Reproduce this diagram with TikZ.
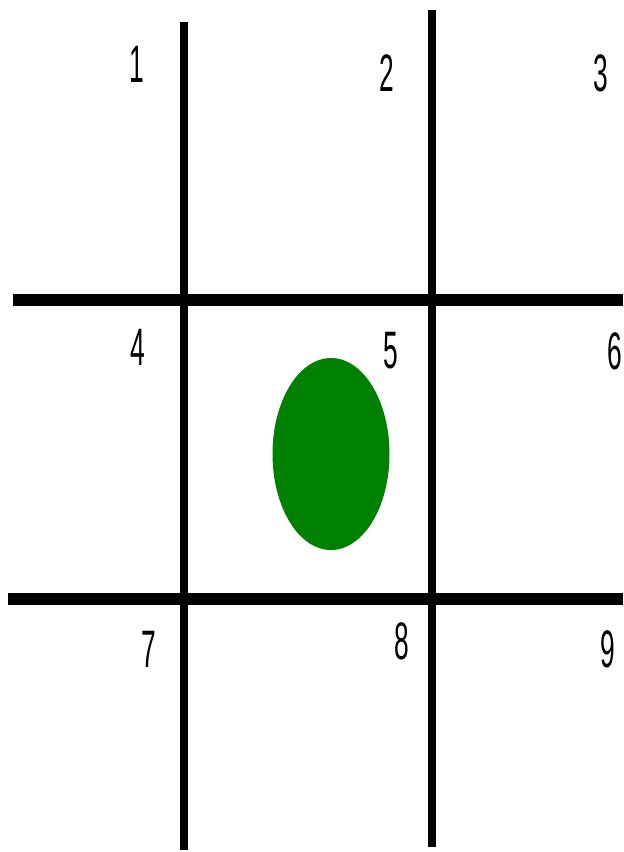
\documentclass[tikz,border=0pt]{standalone}
\usepackage{fontspec}
\setmainfont{Liberation Sans}
\usepackage{tikz}
\usetikzlibrary{shapes.geometric}
\definecolor{blobgreen}{RGB}{0,128,0}
\tikzset{
  vline/.style={line width=6.6pt,black},
  hline/.style={line width=10pt,black},
  cellnum/.style={inner sep=0pt,xscale=0.5,font=\fontsize{45}{45}\selectfont},
  blob/.style={fill=blobgreen},
}
\begin{document}
\begin{tikzpicture}[x=0.03cm,y=-0.03cm]
  \useasboundingbox (0,0) rectangle (623,852);

  % grid
  \draw[vline] (184,22) -- (184,850);
  \draw[vline] (432,10) -- (432,847);
  \draw[hline] (13,300) -- (623,300);
  \draw[hline] (8,599)  -- (623,599);

  % cell numbers
  \node[cellnum] (n1) at (136.5,64.5) {1};
  \node[cellnum] (n2) at (386.5,73)   {2};
  \node[cellnum] (n3) at (601,73.5)   {3};
  \node[cellnum] (n4) at (137.5,347)  {4};
  \node[cellnum] (n5) at (391,350.5)  {5};
  \node[cellnum] (n6) at (614.5,351)  {6};
  \node[cellnum] (n7) at (148.5,649.5){7};
  \node[cellnum] (n8) at (401.5,641)  {8};
  \node[cellnum] (n9) at (607.5,649)  {9};

  % piece in the centre cell
  \fill[blob] (331,454) ellipse [x radius=58.5,y radius=96];
\end{tikzpicture}
\end{document}
